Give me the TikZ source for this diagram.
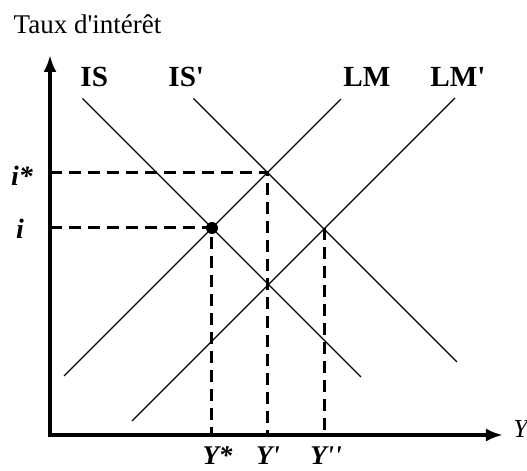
\documentclass[tikz,border=0pt]{standalone}
\usepackage{fontspec}
\setmainfont{Liberation Serif}
\usetikzlibrary{arrows.meta, positioning}

\begin{document}
\begin{tikzpicture}[
    x=0.5pt, y=-0.5pt,
    axis/.style={line width=2.25pt, line join=miter, {Latex[length=8.5pt,width=6.5pt]}-{Latex[length=8.5pt,width=6.5pt]}},
    curve/.style={line width=0.65pt},
    guide/.style={line width=1.5pt, dash pattern=on 6pt off 3.5pt},
    dot/.style={circle, fill, inner sep=0pt, minimum size=6pt},
    curvelbl/.style={anchor=base west, inner sep=0pt, font=\fontsize{14.6}{16}\selectfont\bfseries},
    ratelbl/.style={anchor=base, inner sep=0pt, font=\fontsize{14}{16}\selectfont\bfseries\itshape},
    outlbl/.style={inner sep=0pt, font=\fontsize{13.5}{16}\selectfont\bfseries\itshape},
    title/.style={anchor=base west, inner sep=0pt, font=\fontsize{13.5}{16}\selectfont}
]
    \useasboundingbox (0,0) rectangle (527,471);

    % Axes
    \coordinate (origin) at (50,435);
    \coordinate (ytop) at (50,55);
    \coordinate (xend) at (503,435);
    \draw[axis] (ytop) -- (origin) -- (xend);

    % Curves
    \coordinate (istop) at (82.5,98.5);   \coordinate (isbot) at (361,377);
    \coordinate (is2top) at (193.5,98.5); \coordinate (is2bot) at (457,362);
    \coordinate (lmtop) at (341,99);      \coordinate (lmbot) at (64,376);
    \coordinate (lm2top) at (455,98);     \coordinate (lm2bot) at (132,421);
    \draw[curve] (istop) -- (isbot);
    \draw[curve] (is2top) -- (is2bot);
    \draw[curve] (lmtop) -- (lmbot);
    \draw[curve] (lm2top) -- (lm2bot);

    % Equilibria
    \coordinate (eq) at (212,228);
    \coordinate (eqa) at (268,173);
    \coordinate (eqb) at (325,228);
    \coordinate (istar) at (50,173);
    \coordinate (irate) at (50,228);
    \coordinate (ystar) at (212,435);
    \coordinate (yprime) at (268,435);
    \coordinate (ysec) at (325,435);

    % Dashed guides
    \draw[guide] (irate) -- (eq) -- (ystar);
    \draw[guide] (istar) -- (eqa) -- (yprime);
    \draw[guide] (eqb) -- (ysec);
    \node[dot] (eqdot) at (eq) {};

    % Labels
    \node[title] (ytitle) at (13.3,33) {Taux d\textquotesingle intérêt};
    \node[curvelbl] (lblis) at (80,87) {IS};
    \node[curvelbl] (lblis2) at (168,87) {IS\textquotesingle};
    \node[curvelbl] (lbllm) at (343,87) {LM};
    \node[curvelbl] (lbllm2) at (430,87) {LM\textquotesingle};
    \node[ratelbl] (lblistar) at (22,186) {i*};
    \node[ratelbl] (lblirate) at (20,239) {i};
    \node[outlbl, below=5.5pt of ystar, xshift=2.75pt] (lblystar) {Y*};
    \node[outlbl, below=5.5pt of yprime] (lblyprime) {Y\textquotesingle};
    \node[outlbl, below=5.5pt of ysec, xshift=0.5pt] (lblysec) {Y\textquotesingle\textquotesingle};
    \node[anchor=base west, inner sep=0pt, font=\fontsize{13}{14}\selectfont\itshape] (xtitle) at (513,438) {Y};

\end{tikzpicture}
\end{document}
